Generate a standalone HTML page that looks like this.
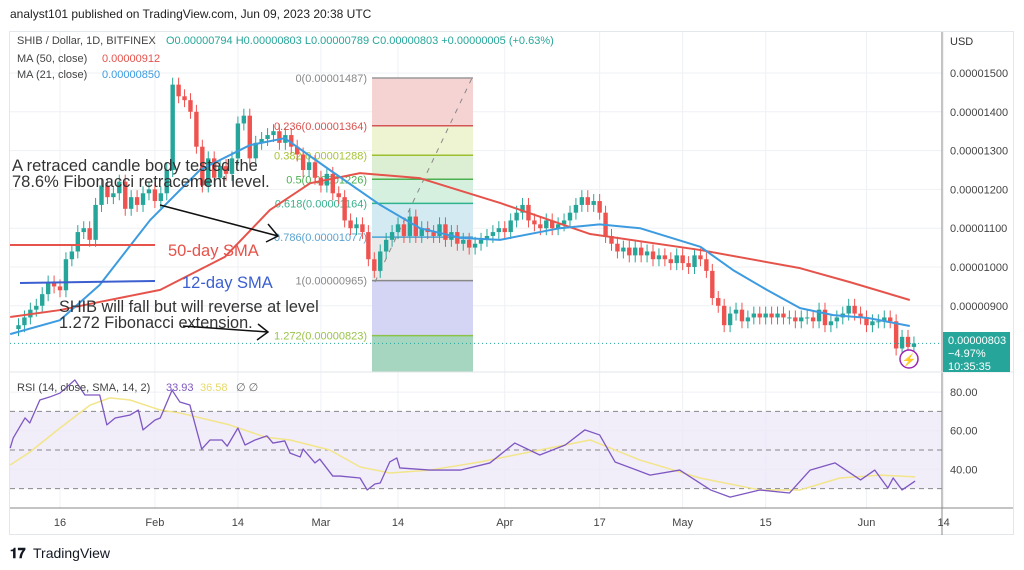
<!DOCTYPE html>
<html><head><meta charset="utf-8">
<style>
body{margin:0;width:1024px;height:570px;background:#fff;font-family:"Liberation Sans",sans-serif;overflow:hidden}
svg{position:absolute;left:0;top:0}
</style></head><body>
<svg width="1024" height="570" id="c" font-family="Liberation Sans, sans-serif"></svg>
<script>
// ---- data ----
const closes=[8.5,8.7,8.9,9.0,9.3,9.6,9.5,
9.4,10.2,10.4,10.9,11.0,10.7,11.6,
12.1,11.8,11.9,12.2,11.5,11.8,11.6,
11.9,12.0,11.7,11.9,12.5,14.7,14.4,
14.3,14.0,13.1,12.1,12.8,12.3,12.6,
12.4,12.8,13.7,13.9,12.8,13.2,13.3,
13.4,13.5,13.2,13.4,13.1,12.9,12.5,
12.7,12.3,12.1,12.4,11.9,11.8,11.2,
11.0,11.1,10.9,10.2,9.9,10.4,10.7,
10.9,11.1,10.8,11.3,10.8,11.0,10.9,
10.8,11.1,10.7,10.9,10.6,10.7,10.5,
10.6,10.7,10.8,10.9,11.0,10.9,11.2,
11.4,11.6,11.2,11.1,11.0,11.2,11.0,
11.1,11.2,11.4,11.6,11.8,11.6,11.7,
11.4,10.8,10.6,10.4,10.5,10.3,10.5,
10.3,10.4,10.2,10.3,10.2,10.1,10.3,
10.1,10.0,10.3,10.2,9.9,9.2,9.0,
8.5,8.8,8.9,8.6,8.7,8.8,8.7,
8.8,8.7,8.8,8.7,8.7,8.6,8.7,
8.7,8.6,8.9,8.5,8.6,8.7,8.8,
9.0,8.8,8.7,8.5,8.6,8.6,8.7,
8.6,7.9,8.2,7.94,8.03];
const firstOpen=8.4;
const ma50Days=[-1.4,7,13.7,23.9,34.8,42.4,49.2,57.6,67.7,81.2,96.4,114.9,131.8,140.2,150.3];
const ma50Vals=[8.71,8.89,9.10,9.41,10.26,11.47,12.16,12.42,12.29,11.65,10.85,10.44,9.97,9.61,9.15];
const ma21Days=[-1.4,7,13.7,22.2,30.6,39,44.9,52.5,61,67.7,74.5,81.2,91.3,98,104.8,115,120.5,126.2,131.8,137.4,143.1,150.3];
const ma21Vals=[8.27,8.63,9.54,11.21,12.5,13.14,13.32,12.5,11.6,11.0,10.75,10.7,11.0,11.1,11.0,10.52,9.92,9.41,8.94,8.76,8.69,8.48];
const rsiDays=[-1.4,-0.9,1.1,1.9,3.6,5.3,7,9.5,11.2,13.7,14.9,16.3,18.8,20.2,21,23,23.9,25.9,27.2,28.9,30.9,32.3,34.3,35.2,37,38.2,39.9,41.9,42.9,44.9,45.8,47.5,48,50,50.8,53,54.2,57.6,58.8,60.1,61,62.6,63.8,64.3,69.4,74.5,79.5,83.7,87.9,92.2,95.5,98,100.6,106.5,111.5,116.7,120,125,130,133.5,137.7,142,144.4,146.6,147.5,149,151.2];
const rsiVals=[51,56.2,66.6,64,75.9,77.5,79.5,86.3,78.5,78.5,63,66.6,68.1,70.7,60.4,65.5,66.6,81,74.9,73.3,50.5,55.2,55.2,52,61.4,52.6,55.2,57.3,53.6,54.7,48.4,46.4,50.5,43.3,45.3,36.5,36.5,35.5,29.3,32.4,32.9,43.8,45.9,40.7,39.6,39.6,43.3,53.6,47.4,52.6,60.4,57.8,43.8,37,39.6,29.3,25.6,29.3,27.7,39.6,43.3,34.5,39.6,30.3,35.5,29.3,33.9];
const rsiMaDays=[-1.4,1.9,7,12.1,15.4,18.8,23.9,27.2,35.6,41.6,45.8,52.5,57.6,62.6,69.4,77.8,87.9,96.4,104.8,114.9,125,131.8,138.5,145.3,151.2];
const rsiMaVals=[42.2,48.9,61.4,73.3,77,75.9,70.7,69.2,63,56.7,55.2,50,41.2,38.1,39.6,43.8,50,55.2,44.8,35.5,29.3,29.3,35.5,37,36.1];
const priceTicks=[15,14,13,12,11,10,9];
const rsiTicks=[80,60,40];
const timeLabels=["16","Feb","14","Mar","14","Apr","17","May","15","Jun","14"];
const timeDays=[7,23,37,51,64,82,98,112,126,143,156];
const fibLevels=["0","0.236","0.382","0.5","0.618","0.786","1","1.272"];
const fibPrices=[14.87,13.64,12.88,12.26,11.64,10.77,9.65,8.23];

// ---- axes ----
const X=d=>18.5+d*5.93;
const Y=p=>73+(15-p)*38.8;
const R=v=>450-(v-50)*1.93;
const S=document.getElementById('c');
const NS='http://www.w3.org/2000/svg';
function el(t,a,txt){const e=document.createElementNS(NS,t);for(const k in a)e.setAttribute(k,a[k]);if(txt!=null)e.textContent=txt;S.appendChild(e);return e;}

let e=el('rect',{x:9.5,y:31.5,width:1004,height:503,fill:'none',stroke:'#e3e6ea'});

priceTicks.forEach(p=>{el('line',{x1:10,x2:942,y1:Y(p),y2:Y(p),stroke:'#eef1f5'});});
[80,60,40].forEach(v=>{el('line',{x1:10,x2:942,y1:R(v),y2:R(v),stroke:'#eef1f5'});});
timeDays.forEach(d=>{el('line',{x1:X(d),x2:X(d),y1:32,y2:508,stroke:'#eef1f5'});});
e=el('rect',{x:10,y:R(70),width:932,height:R(30)-R(70),fill:'#ede8f8',opacity:.8});

[70,50,30].forEach(v=>{el('line',{x1:10,x2:942,y1:R(v),y2:R(v),stroke:'#888','stroke-dasharray':'5,4','stroke-width':1});});

const fx1=372,fx2=473;
const fibFills=['#f6d3d3','#eef3d2','#dcefd3','#d6f0e0','#d3eaf2','#e9e9e9','#d4d4f4','#a6d6c0'];
const fibLines=['#999','#d35555','#9bbf2e','#4caf50','#2fb38f','#4aa3d4','#888','#8bc34a'];
const fibText=['#888','#d9534f','#a6c43a','#4caf50','#3ab08d','#5aa3cf','#888','#9bc34a'];
for(let i=0;i<fibPrices.length;i++){
  const y1=Y(fibPrices[i]), y2=i<fibPrices.length-1?Y(fibPrices[i+1]):372;
  e=el('rect',{x:fx1,y:y1,width:fx2-fx1,height:y2-y1,fill:fibFills[i]});
  
}
for(let i=0;i<fibPrices.length;i++){
  el('line',{x1:fx1,x2:fx2,y1:Y(fibPrices[i]),y2:Y(fibPrices[i]),stroke:fibLines[i],'stroke-width':1.5});
  e=el('text',{x:fx1-5,y:Y(fibPrices[i])+4,'text-anchor':'end','font-size':11,fill:fibText[i]},fibLevels[i]+'('+(fibPrices[i]/1e6).toFixed(8)+')');
  
}
el('line',{x1:375,y1:282,x2:472,y2:78,stroke:'#888','stroke-dasharray':'5,6'});

let prev=firstOpen;
closes.forEach((c,i)=>{
  const o=prev;prev=c;
  const up=c>=o,col=up?'#26a69a':'#ef5350';
  const hi=Math.max(o,c)+0.18,lo=Math.min(o,c)-0.18;
  const x=X(i);
  el('line',{x1:x,x2:x,y1:Y(hi),y2:Y(lo),stroke:col,'stroke-width':1});
  const yt=Y(Math.max(o,c)),yb=Y(Math.min(o,c));
  e=el('rect',{x:x-2.2,y:yt,width:4.4,height:Math.max(1,yb-yt),fill:col});
  
});
function line(days,vals,fy,col,w,name){
  e=el('polyline',{points:days.map((d,i)=>X(d)+','+fy(vals[i])).join(' '),fill:'none',stroke:col,'stroke-width':w,'stroke-linejoin':'round'});
  
}
line(ma50Days,ma50Vals,Y,'#e5534b',2,'ma50-line');
line(ma21Days,ma21Vals,Y,'#3d9be0',2,'ma21-line');
el('line',{x1:10,x2:942,y1:Y(8.03),y2:Y(8.03),stroke:'#26a69a','stroke-dasharray':'1,3'});
line(rsiMaDays,rsiMaVals,R,'#f3e58a',1.5,'rsi-ma-line');
line(rsiDays,rsiVals,R,'#7e57c2',1.3,'rsi-line');

el('line',{x1:10,x2:155,y1:245,y2:245,stroke:'#e5534b','stroke-width':2});
el('line',{x1:20,x2:155,y1:283,y2:281,stroke:'#3b5fd0','stroke-width':2});
el('text',{x:168,y:256,'font-size':16.5,fill:'#e5534b'},'50-day SMA');
el('text',{x:182,y:288,'font-size':16.5,fill:'#3b5fd0'},'12-day SMA');
el('text',{x:12,y:171,'font-size':16.5,fill:'#333'},'A retraced candle body tested the');
el('text',{x:12,y:187,'font-size':16.5,fill:'#333'},'78.6% Fibonacci retracement level.');
el('text',{x:59,y:312,'font-size':16.3,fill:'#333'},'SHIB will fall but will reverse at level');
el('text',{x:59,y:328,'font-size':16.3,fill:'#333'},'1.272 Fibonacci extension.');
el('path',{d:'M160 205 L278 236 M268 224 L278 236 L266 242',fill:'none',stroke:'#111','stroke-width':1.5});
el('path',{d:'M183 326 L268 332 M258 324 L268 332 L257 340',fill:'none',stroke:'#111','stroke-width':1.5});

el('line',{x1:942,x2:942,y1:32,y2:535,stroke:'#888'});
el('line',{x1:10,x2:1013,y1:508,y2:508,stroke:'#888'});
el('line',{x1:10,x2:942,y1:372,y2:372,stroke:'#e3e6ea'});
el('line',{x1:942,x2:1013,y1:372,y2:372,stroke:'#e3e6ea'});
el('text',{x:950,y:45,'font-size':11,fill:'#333'},'USD');
priceTicks.forEach(p=>{e=el('text',{x:950,y:Y(p)+4,'font-size':11,fill:'#444'},(p/1e6).toFixed(8));
});
rsiTicks.forEach(v=>{e=el('text',{x:950,y:R(v)+4,'font-size':11,fill:'#444'},v.toFixed(2));
});
timeLabels.forEach((t,i)=>{e=el('text',{x:X(timeDays[i]),y:526,'font-size':11,fill:'#444','text-anchor':'middle'},t);
});
e=el('rect',{x:943,y:332,width:67,height:40,fill:'#26a69a'});

el('text',{x:948,y:344,'font-size':11,fill:'#fff'},'0.00000803');
el('text',{x:948,y:357,'font-size':11,fill:'#fff'},'−4.97%');
el('text',{x:948,y:370,'font-size':11,fill:'#fff'},'10:35:35');
el('circle',{cx:909,cy:359,r:9,fill:'#fff',stroke:'#9c27b0','stroke-width':1.5});
el('text',{x:909,y:364,'font-size':12,fill:'#9c27b0','text-anchor':'middle'},'⚡');

el('text',{x:10,y:18,'font-size':12,fill:'#222'},'analyst101 published on TradingView.com, Jun 09, 2023 20:38 UTC');
el('text',{x:17,y:44,'font-size':11,fill:'#444'},'SHIB / Dollar, 1D, BITFINEX');
el('text',{x:166,y:44,'font-size':11,fill:'#26a69a'},'O0.00000794  H0.00000803  L0.00000789  C0.00000803  +0.00000005 (+0.63%)');
el('text',{x:17,y:62,'font-size':11,fill:'#444'},'MA (50, close)');
el('text',{x:102,y:62,'font-size':11,fill:'#e5534b'},'0.00000912');
el('text',{x:17,y:78,'font-size':11,fill:'#444'},'MA (21, close)');
el('text',{x:102,y:78,'font-size':11,fill:'#3d9be0'},'0.00000850');
el('text',{x:17,y:391,'font-size':11,fill:'#444'},'RSI (14, close, SMA, 14, 2)');
el('text',{x:166,y:391,'font-size':11,fill:'#7e57c2'},'33.93');
el('text',{x:200,y:391,'font-size':11,fill:'#e8d96a'},'36.58');
el('text',{x:236,y:391,'font-size':11,fill:'#666'},'∅  ∅');
el('text',{x:10,y:558,'font-size':14,'font-weight':'bold',fill:'#131722'},'𝟏𝟕');
el('text',{x:33,y:558,'font-size':14,fill:'#131722'},'TradingView');
</script>
</body></html>
